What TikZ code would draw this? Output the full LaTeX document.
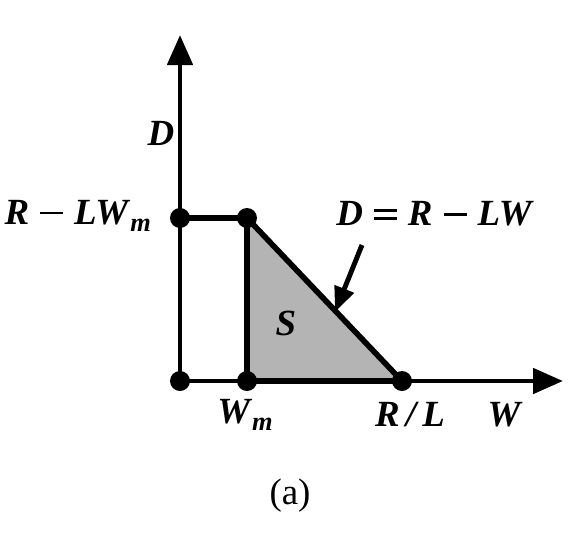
\documentclass[tikz,border=0pt]{standalone}
\usepackage{fontspec}
\setmainfont{Liberation Serif}
\usepackage{tikz}
\usetikzlibrary{arrows.meta, positioning}
\definecolor{AreaGray}{RGB}{180,180,180}
\newcommand{\mv}[1]{\textbf{\textit{#1}}}
\newcommand{\sub}[1]{\raisebox{-0.45ex}{\fontsize{15}{15}\selectfont\textbf{\textit{#1}}}}
\newcommand{\mn}{\hspace{0.3em}\raisebox{0.27em}{\rule{0.62em}{0.07em}}\hspace{0.3em}}
\newcommand{\eqs}{\hspace{0.3em}\raisebox{0.16em}{\rule{0.62em}{0.07em}}\hspace{-0.62em}\raisebox{0.38em}{\rule{0.62em}{0.07em}}\hspace{0.3em}}

\begin{document}
\begin{tikzpicture}[font=\fontsize{21}{24}\selectfont,
	dot/.style={circle, fill=black, inner sep=0pt, minimum size=0.4cm},
	axis/.style={line width=2.8pt, -{Triangle[length=0.6cm,width=0.5cm]}},
	edge/.style={line width=3.2pt, line join=round}]
	\useasboundingbox (-3.6,-3.34) rectangle (7.92,7.62);
	% corners of the region
	\coordinate (o) at (0,0);
	\coordinate (wm) at (1.34,0);
	\coordinate (rl) at (4.44,0);
	\coordinate (top) at (1.34,3.26);
	\coordinate (ytop) at (0,3.26);
	\fill[AreaGray] (wm) -- (top) -- (rl) -- cycle;
	\draw[axis] (o) -- (0,6.92) coordinate (dax);
	\draw[axis] (o) -- (7.66,0) coordinate (wax);
	\draw[edge] (ytop) -- (top) -- (rl) -- (wm) -- (top);
	\foreach \p in {o, wm, rl, top, ytop}
		\node[dot] at (\p) {};
	\node (d) at (-0.38,4.96) {\mv{D}};
	\node[anchor=east] (rlwm) at (-0.46,3.3) {\mv{R}\mn\mv{LW}\sub{m}};
	\node (wmlab) at (1.3,-0.68) {\mv{W}\sub{m}};
	\node (rllab) at (4.6,-0.68) {\mv{R\,/\,L}};
	\node (w) at (6.5,-0.68) {\mv{W}};
	\node (eq) at (5.1,3.34) {\mv{D}\eqs\mv{R}\mn\mv{LW}};
	\node (s) at (2.12,1.16) {\mv{S}};
	\node (cap) at (2.2,-2.3) {(a)};
	\coordinate (hit) at (3.1,1.38);
	\draw[line width=2.8pt, -{Triangle[length=0.5cm,width=0.4cm]}] (3.64,2.72) -- (hit);
\end{tikzpicture}
\end{document}
